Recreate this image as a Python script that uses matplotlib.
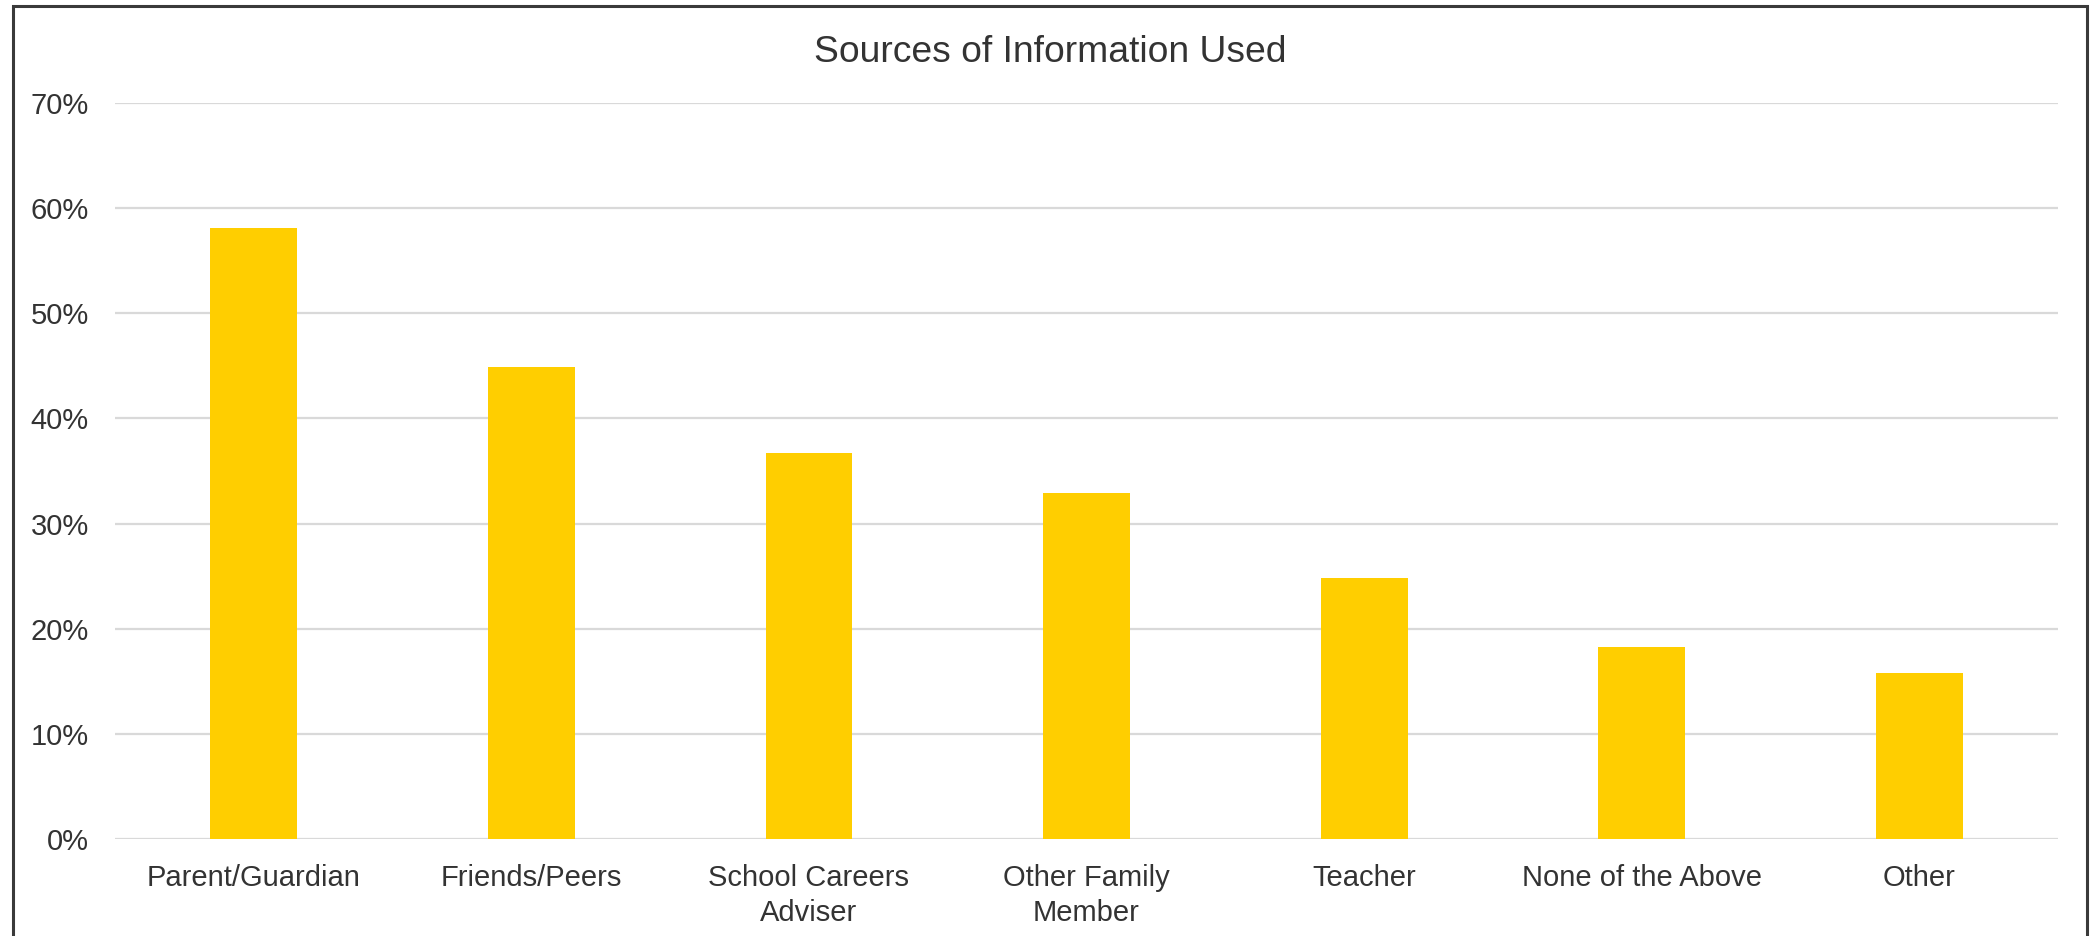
import matplotlib.pyplot as plt
from matplotlib.patches import Rectangle
from matplotlib.ticker import PercentFormatter

categories = ['Parent/Guardian', 'Friends/Peers', 'School Careers\nAdviser',
              'Other Family\nMember', 'Teacher', 'None of the Above', 'Other']
values = [58.1, 44.9, 36.7, 32.9, 24.8, 18.3, 15.8]

plt.rcParams['font.family'] = ['Liberation Sans', 'DejaVu Sans']
text_color = '#333333'

fig = plt.figure(figsize=(21, 9.36), dpi=100)
ax = fig.add_axes([0.0548, 0.1036, 0.9252, 0.7864])

x = range(len(categories))
ax.bar(x, values, width=0.313, color='#FFCE00', zorder=3)

ax.set_xlim(-0.5, len(categories) - 0.5)
ax.set_ylim(0, 70)
ax.set_yticks(range(0, 71, 10))
ax.yaxis.set_major_formatter(PercentFormatter(decimals=0))
ax.set_xticks(list(x))
ax.set_xticklabels(categories, linespacing=1.3)

ax.grid(axis='y', color='#d9d9d9', linewidth=1.6, zorder=0)
for s in ax.spines.values():
    s.set_visible(False)
ax.tick_params(axis='both', length=0, labelsize=21, colors=text_color)
ax.tick_params(axis='y', pad=19)
ax.tick_params(axis='x', pad=18)

fig.text(0.5, 0.944, 'Sources of Information Used', ha='center', va='center',
         fontsize=26.8, color=text_color)

# outer chart frame
fig.patches.append(Rectangle((0.0062, -0.05), 0.9876, 1.0436, transform=fig.transFigure,
                             fill=False, edgecolor='#3a3a3a', linewidth=2.2))

fig.savefig('out.png', dpi=100)
